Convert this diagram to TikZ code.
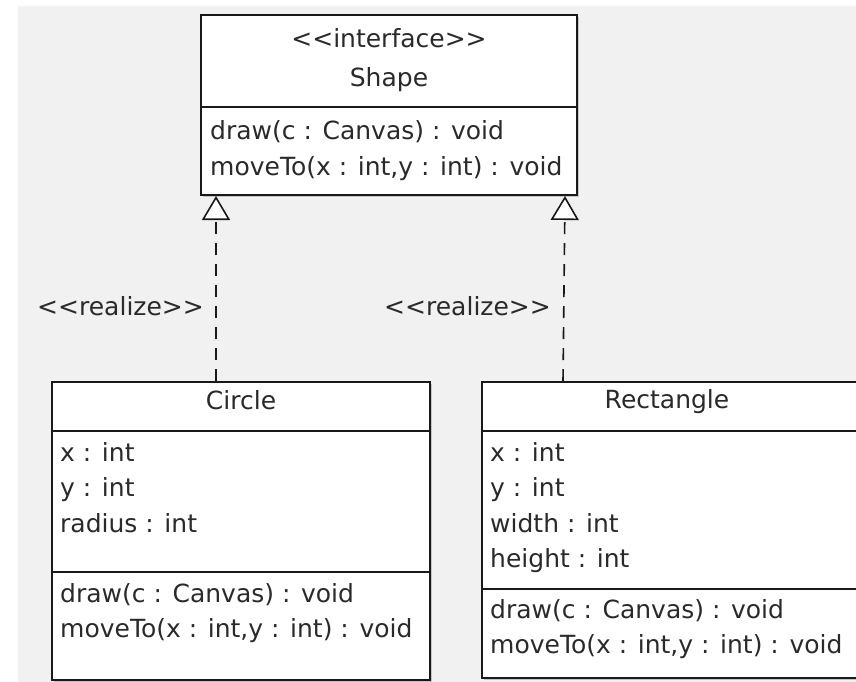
\documentclass[tikz,border=0pt]{standalone}
\usepackage{fontspec}
\setmainfont{DejaVu Sans}
\usetikzlibrary{arrows.meta,shadows}
\definecolor{canvasgray}{HTML}{F1F1F1}
\definecolor{inkgray}{HTML}{2A2A2A}
\newcommand\dlt{<\kern0pt<}
\newcommand\dgt{>\kern0pt>}
\begin{document}
\begin{tikzpicture}[x=1pt,y=-1pt,
  umltext/.style={inner sep=0pt, text=inkgray, font=\fontsize{25}{35.5}\selectfont},
  member/.style={umltext, anchor=base west},
  title/.style={umltext, anchor=base},
  classbox/.style={draw=black!90, line width=2pt, fill=white,
    drop shadow={shadow xshift=2pt, shadow yshift=-2pt, fill=black, opacity=0.18}},
  divider/.style={draw=black!90, line width=1.6pt},
  realize/.style={draw=black!90, line width=1.6pt, dash pattern=on 12pt off 9pt,
    -{Triangle[open, fill=white, width=28pt, length=24pt, line width=1.6pt]}}]
  \useasboundingbox (0,0) rectangle (856,681);
  \clip (0,0) rectangle (856,681);
  % canvas
  \fill[white] (0,0) rectangle (856,681);
  \fill[canvasgray] (18,6) rectangle (860,690);

  % interface Shape
  \node[classbox, minimum width=376pt, minimum height=180pt] (shape) at (389,105) {};
  \draw[divider] (shape.west |- 0,107) -- (shape.east |- 0,107);
  \node[title] (shapeStereo) at (389,47) {\dlt interface\dgt};
  \node[title] (shapeName) at (389,86) {Shape};
  \node[member] (shapeM1) at (210,139) {draw(c : Canvas) : void};
  \node[member] (shapeM2) at (210,175) {moveTo(x : int,y : int) : void};

  % class Circle
  \node[classbox, minimum width=378pt, minimum height=298pt] (circle) at (241,531) {};
  \draw[divider] (circle.west |- 0,431) -- (circle.east |- 0,431);
  \draw[divider] (circle.west |- 0,572) -- (circle.east |- 0,572);
  \node[title] (circleName) at (241,409) {Circle};
  \node[member] (circleA1) at (60,461) {x : int};
  \node[member] (circleA2) at (60,496.5) {y : int};
  \node[member] (circleA3) at (60,532) {radius : int};
  \node[member] (circleM1) at (60,602) {draw(c : Canvas) : void};
  \node[member] (circleM2) at (60,637) {moveTo(x : int,y : int) : void};

  % class Rectangle
  \node[classbox, minimum width=376pt, minimum height=296pt] (rect) at (670,530) {};
  \draw[divider] (rect.west |- 0,431) -- (rect.east |- 0,431);
  \draw[divider] (rect.west |- 0,589) -- (rect.east |- 0,589);
  \node[title] (rectName) at (667,408) {Rectangle};
  \node[member] (rectA1) at (490,461) {x : int};
  \node[member] (rectA2) at (490,496.5) {y : int};
  \node[member] (rectA3) at (490,532) {width : int};
  \node[member] (rectA4) at (490,567.5) {height : int};
  \node[member] (rectM1) at (490,618) {draw(c : Canvas) : void};
  \node[member] (rectM2) at (490,653) {moveTo(x : int,y : int) : void};

  % realizations
  \draw[realize] ([xshift=165pt]circle.north west) -- ([xshift=16pt]shape.south west);
  \draw[realize] ([xshift=82pt]rect.north west) -- ([xshift=-13pt]shape.south east);
  \node[member] (realizeL) at (37,315) {\dlt realize\dgt};
  \node[member] (realizeR) at (384,315) {\dlt realize\dgt};
\end{tikzpicture}
\end{document}
